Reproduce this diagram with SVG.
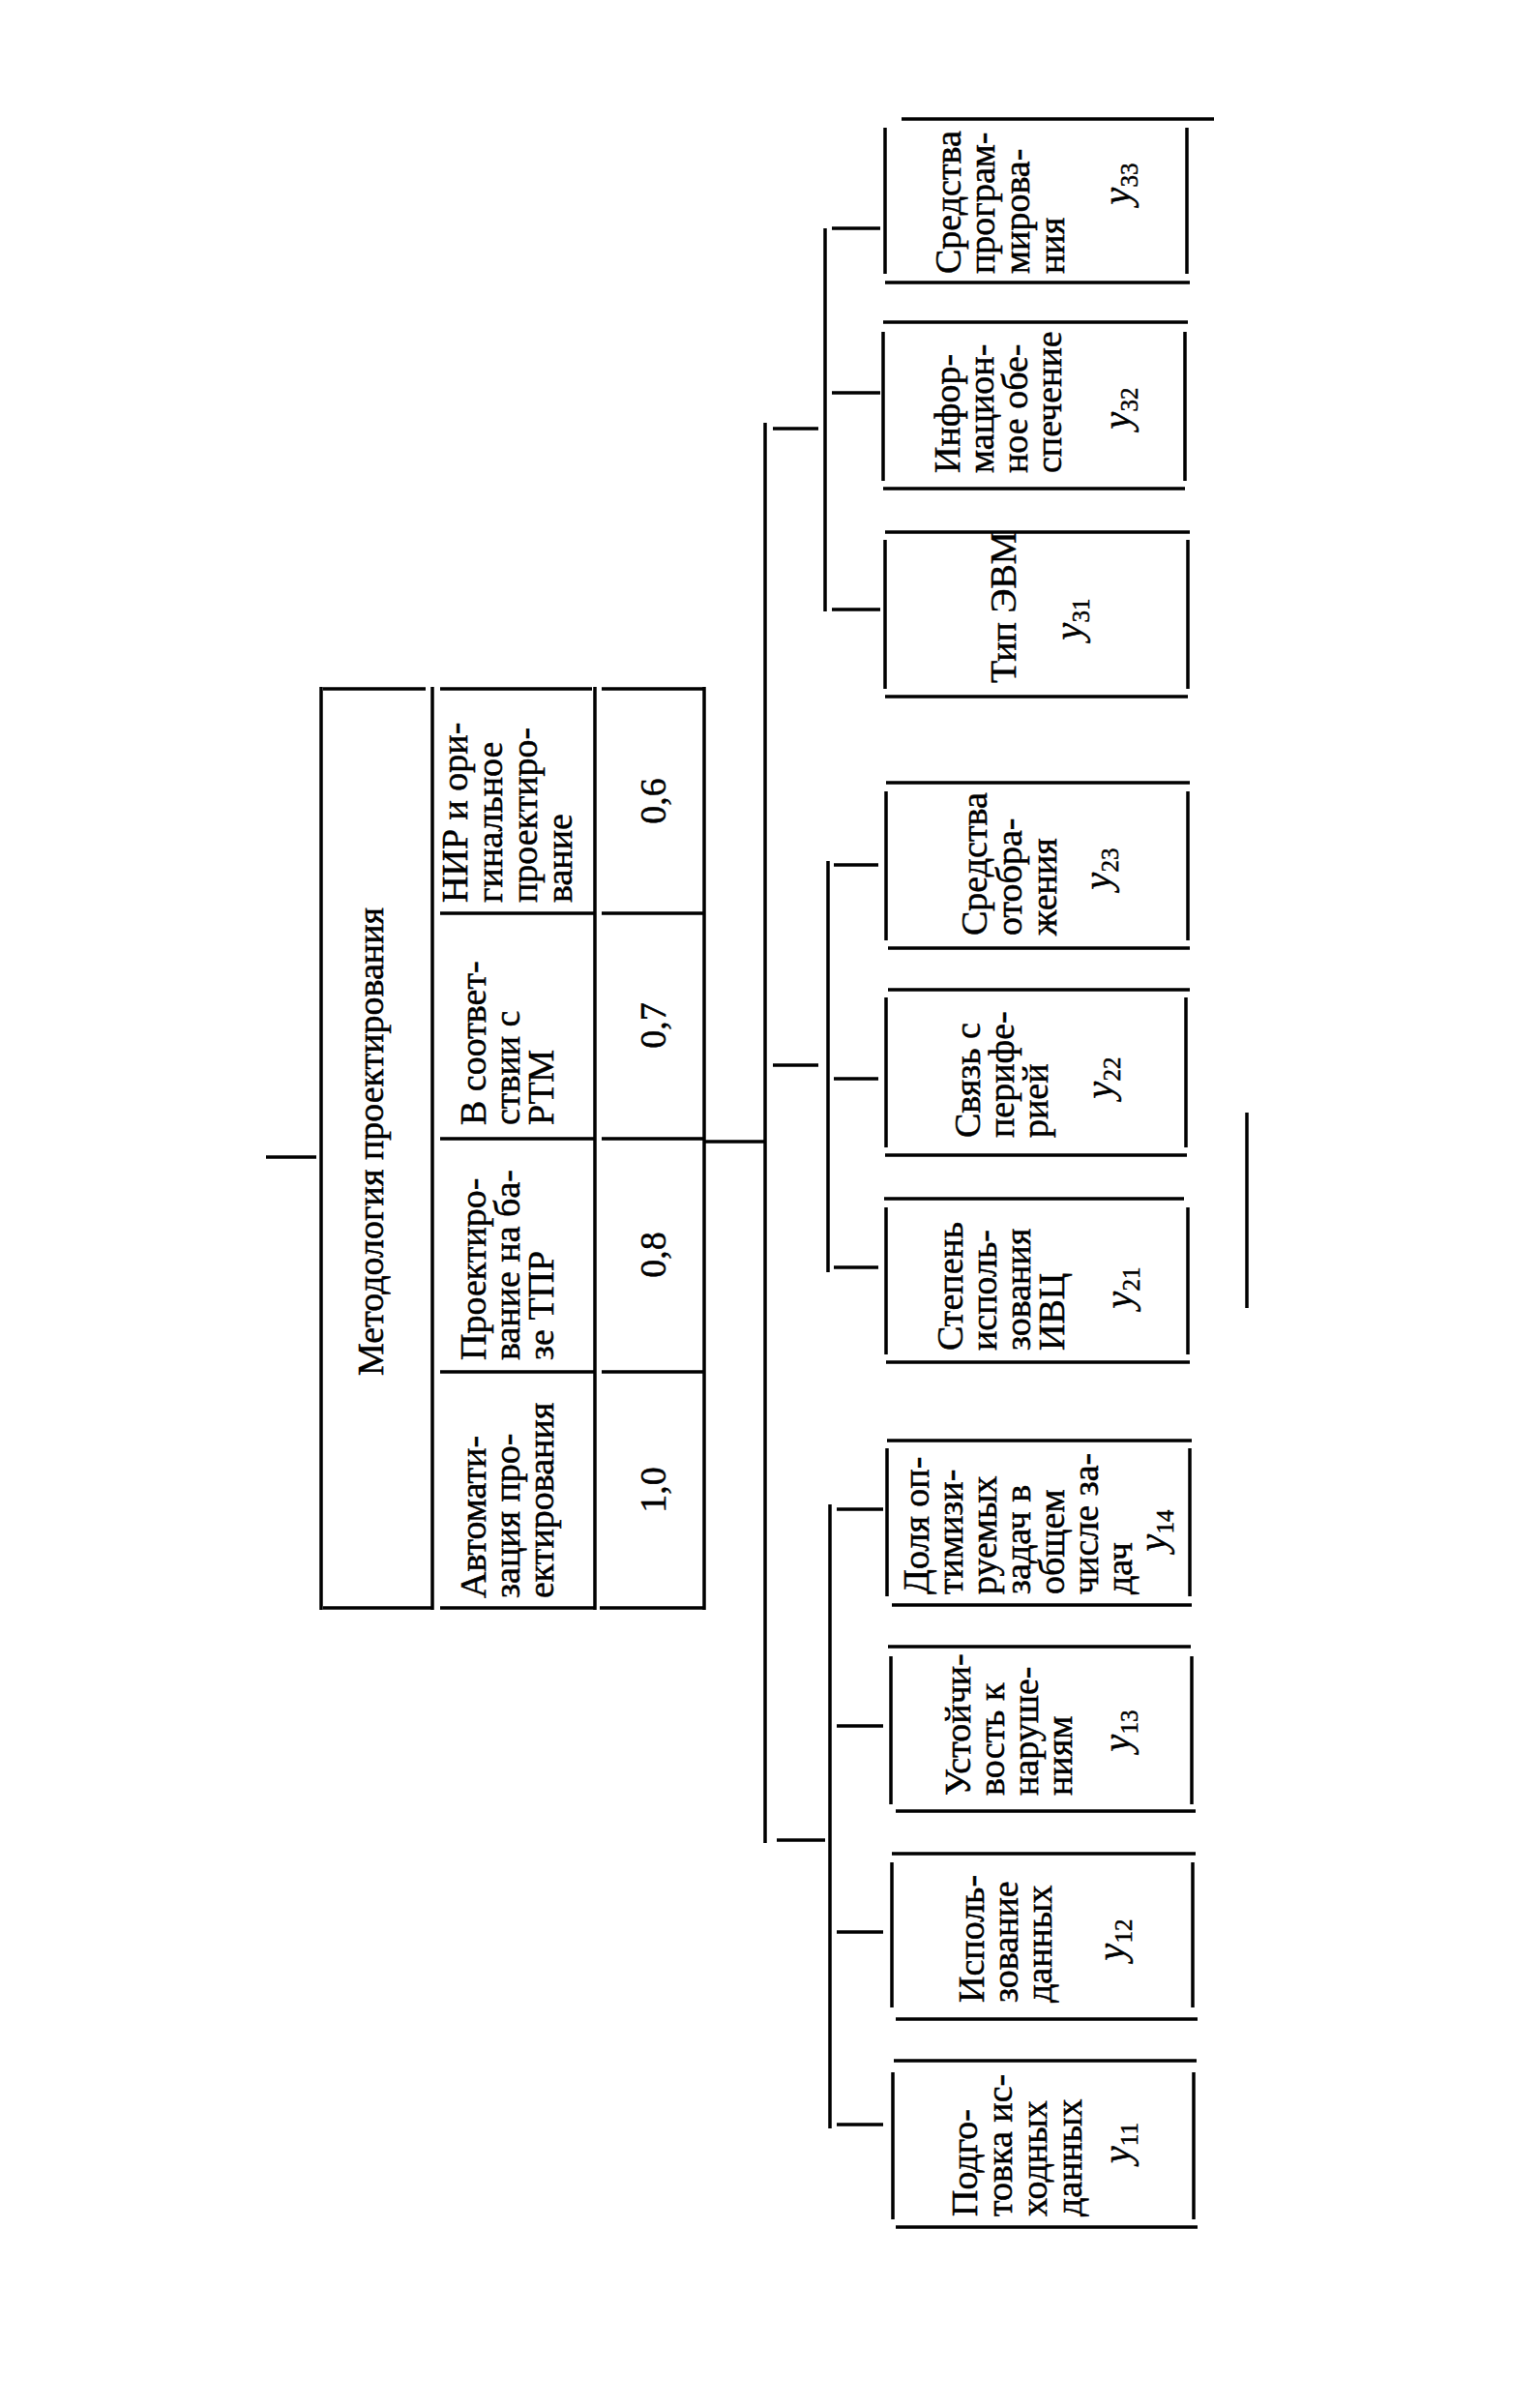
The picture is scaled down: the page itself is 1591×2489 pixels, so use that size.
<svg xmlns="http://www.w3.org/2000/svg" width="1591" height="2489" viewBox="0 0 1591 2489">
<style>
.bg{fill:#fff}
.ln{stroke:#000;stroke-width:3.5;fill:none;stroke-linecap:butt}
.cn{stroke:#000;stroke-width:3.5;fill:none}
.t{font-family:"Liberation Serif","Times New Roman",serif;font-size:38px;fill:#000;stroke:#000;stroke-width:0.5}
.tt{font-family:"Liberation Serif","Times New Roman",serif;font-size:38px;fill:#000;stroke:#000;stroke-width:0.5}
.lbl{font-family:"Liberation Serif","Times New Roman",serif;font-size:40px;font-style:italic;fill:#000;stroke:#000;stroke-width:0.5}
.sub{font-size:25px;font-style:normal}
</style>
<rect class="bg" x="0" y="0" width="1591" height="2489"/>

<g id="connectors">
<path class="cn" d="M275 1196 H327"/>
<path class="cn" d="M728 1180 H791"/>
<path class="cn" d="M791 437 V1905"/>
<path class="cn" d="M799 443 H846"/>
<path class="cn" d="M853 236 V632"/>
<path class="cn" d="M860 236 H910 M860 406 H910 M860 630 H910"/>
<path class="cn" d="M799 1101 H846"/>
<path class="cn" d="M856 890 V1315"/>
<path class="cn" d="M862 894 H908 M862 1115 H908 M862 1310 H908"/>
<path class="cn" d="M803 1902 H853"/>
<path class="cn" d="M858 1555 V2200"/>
<path class="cn" d="M865 1560 H913 M865 1784 H913 M865 1997 H913 M865 2196 H913"/>
</g>

<g id="methodology">
<path class="ln" d="M332 710 V1664 M447 710 V1664 M615 710 V1664 M728 710 V1664"/>
<path class="ln" d="M334 712 H440 M455 712 H612 M622 712 H727 M334 1662 H447 M455 1662 H615 M620 1662 H727"/>
<path class="ln" d="M455 944 H615 M455 1177 H615 M455 1418 H615 M622 944 H727 M622 1177 H727 M622 1418 H727"/>
<text class="tt" transform="translate(396,1180) rotate(-90)" text-anchor="middle">Методология проектирования</text>
<g id="method-auto">
<text class="tt" transform="translate(502,1652) rotate(-90)"><tspan x="0" dy="0">Автомати-</tspan><tspan x="0" dy="35">зация про-</tspan><tspan x="0" dy="35">ектирования</tspan></text>
<text class="tt" transform="translate(688,1540) rotate(-90)" text-anchor="middle">1,0</text>
</g>
<g id="method-tpr">
<text class="tt" transform="translate(502,1406) rotate(-90)"><tspan x="0" dy="0">Проектиро-</tspan><tspan x="0" dy="35">вание на ба-</tspan><tspan x="0" dy="35">зе ТПР</tspan></text>
<text class="tt" transform="translate(688,1297) rotate(-90)" text-anchor="middle">0,8</text>
</g>
<g id="method-rtm">
<text class="tt" transform="translate(502,1163) rotate(-90)"><tspan x="0" dy="0">В соответ-</tspan><tspan x="0" dy="35">ствии с</tspan><tspan x="0" dy="35">РТМ</tspan></text>
<text class="tt" transform="translate(688,1060) rotate(-90)" text-anchor="middle">0,7</text>
</g>
<g id="method-nir">
<text class="tt" transform="translate(483,933) rotate(-90)"><tspan x="0" dy="0">НИР и ори-</tspan><tspan x="0" dy="36">гинальное</tspan><tspan x="0" dy="36">проектиро-</tspan><tspan x="0" dy="36">вание</tspan></text>
<text class="tt" transform="translate(688,828) rotate(-90)" text-anchor="middle">0,6</text>
</g>
</g>

<g id="y33">
<path class="ln" d="M932 123 H1255 M915 292 H1230 M915 132 V283 M1227 132 V283"/>
<text class="t" transform="translate(993,283) rotate(-90)"><tspan x="0" dy="0">Средства</tspan><tspan x="0" dy="35">програм-</tspan><tspan x="0" dy="36">мирова-</tspan><tspan x="0" dy="36">ния</tspan></text>
<text class="lbl" transform="translate(1168,190) rotate(-90)" text-anchor="middle">y<tspan class="sub" dy="8">33</tspan></text>
</g>
<g id="y32">
<path class="ln" d="M913 333 H1228 M913 505 H1225 M913 343 V497 M1225 343 V497"/>
<text class="t" transform="translate(992,489) rotate(-90)"><tspan x="0" dy="0">Инфор-</tspan><tspan x="0" dy="35">мацион-</tspan><tspan x="0" dy="35">ное обе-</tspan><tspan x="0" dy="35">спечение</tspan></text>
<text class="lbl" transform="translate(1168,422) rotate(-90)" text-anchor="middle">y<tspan class="sub" dy="8">32</tspan></text>
</g>
<g id="y31">
<path class="ln" d="M915 550 H1230 M915 720 H1228 M915 558 V712 M1228 558 V712"/>
<text class="t" transform="translate(1050,706) rotate(-90)">Тип ЭВМ</text>
<text class="lbl" transform="translate(1118,640) rotate(-90)" text-anchor="middle">y<tspan class="sub" dy="8">31</tspan></text>
</g>

<g id="y23">
<path class="ln" d="M916 809 H1230 M918 980 H1230 M916 818 V972 M1228 818 V972"/>
<text class="t" transform="translate(1020,967) rotate(-90)"><tspan x="0" dy="0">Средства</tspan><tspan x="0" dy="36">отобра-</tspan><tspan x="0" dy="36">жения</tspan></text>
<text class="lbl" transform="translate(1148,898) rotate(-90)" text-anchor="middle">y<tspan class="sub" dy="8">23</tspan></text>
</g>
<g id="y22">
<path class="ln" d="M918 1023 H1230 M915 1194 H1227 M916 1031 V1186 M1226 1031 V1186"/>
<text class="t" transform="translate(1013,1176) rotate(-90)"><tspan x="0" dy="0">Связь с</tspan><tspan x="0" dy="35">перифе-</tspan><tspan x="0" dy="35">рией</tspan></text>
<text class="lbl" transform="translate(1150,1114) rotate(-90)" text-anchor="middle">y<tspan class="sub" dy="8">22</tspan></text>
</g>
<g id="y21">
<path class="ln" d="M914 1239 H1224 M916 1408 H1230 M916 1248 V1400 M1228 1248 V1400"/>
<text class="t" transform="translate(995,1396) rotate(-90)"><tspan x="0" dy="0">Степень</tspan><tspan x="0" dy="35">исполь-</tspan><tspan x="0" dy="35">зования</tspan><tspan x="0" dy="35">ИВЦ</tspan></text>
<text class="lbl" transform="translate(1170,1331) rotate(-90)" text-anchor="middle">y<tspan class="sub" dy="8">21</tspan></text>
</g>

<g id="y14">
<path class="ln" d="M917 1489 H1232 M922 1659 H1232 M917 1497 V1650 M1230 1497 V1650"/>
<text class="t" transform="translate(960,1648) rotate(-90)"><tspan x="0" dy="0">Доля оп-</tspan><tspan x="0" dy="35">тимизи-</tspan><tspan x="0" dy="35">руемых</tspan><tspan x="0" dy="35">задач в</tspan><tspan x="0" dy="35">общем</tspan><tspan x="0" dy="35">числе за-</tspan><tspan x="0" dy="35">дач</tspan></text>
<text class="lbl" transform="translate(1205,1582) rotate(-90)" text-anchor="middle">y<tspan class="sub" dy="8">14</tspan></text>
</g>
<g id="y13">
<path class="ln" d="M918 1702 H1231 M926 1872 H1236 M921 1712 V1865 M1232 1712 V1865"/>
<text class="t" transform="translate(1003,1856) rotate(-90)"><tspan x="0" dy="0">Устойчи-</tspan><tspan x="0" dy="35">вость к</tspan><tspan x="0" dy="35">наруше-</tspan><tspan x="0" dy="35">ниям</tspan></text>
<text class="lbl" transform="translate(1168,1789) rotate(-90)" text-anchor="middle">y<tspan class="sub" dy="8">13</tspan></text>
</g>
<g id="y12">
<path class="ln" d="M922 1916 H1236 M926 2087 H1238 M922 1925 V2075 M1233 1925 V2075"/>
<text class="t" transform="translate(1017,2070) rotate(-90)"><tspan x="0" dy="0">Исполь-</tspan><tspan x="0" dy="35">зование</tspan><tspan x="0" dy="35">данных</tspan></text>
<text class="lbl" transform="translate(1162,2005) rotate(-90)" text-anchor="middle">y<tspan class="sub" dy="8">12</tspan></text>
</g>
<g id="y11">
<path class="ln" d="M924 2130 H1237 M926 2302 H1238 M923 2142 V2294 M1234 2142 V2294"/>
<text class="t" transform="translate(1010,2291) rotate(-90)"><tspan x="0" dy="0">Подго-</tspan><tspan x="0" dy="36">товка ис-</tspan><tspan x="0" dy="36">ходных</tspan><tspan x="0" dy="36">данных</tspan></text>
<text class="lbl" transform="translate(1168,2215) rotate(-90)" text-anchor="middle">y<tspan class="sub" dy="8">11</tspan></text>
</g>

<path class="ln" d="M1289 1150 V1352"/>
</svg>
